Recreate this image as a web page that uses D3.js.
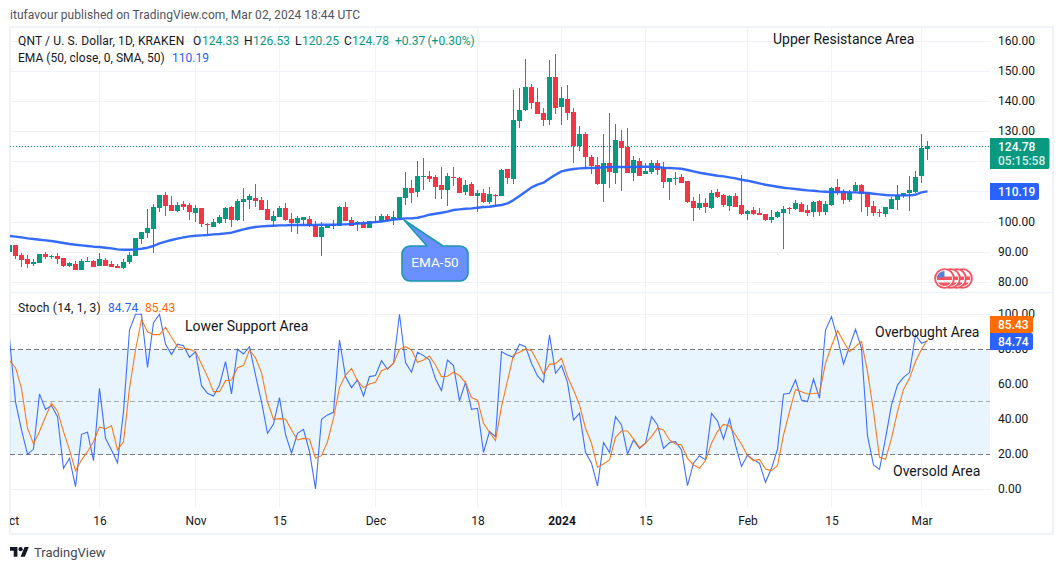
<!DOCTYPE html>
<html><head><meta charset="utf-8">
<script src="https://cdn.jsdelivr.net/npm/d3@7/dist/d3.min.js"></script>
<style>html,body{margin:0;padding:0;background:#fff;overflow:hidden}svg{display:block}text{font-family:Roboto,sans-serif}</style>
</head><body><svg id="c" width="1064" height="570"></svg>
<script>
const startDate = new Date(Date.UTC(2023, 9, 1));
const ohlc = [
[89.9,92.4,89.9,92.4],[92.4,92.4,87.8,88.8],[89.1,89.8,85.2,87.4],[87.7,89.0,84.9,86.1],[86.1,87.6,85.4,86.7],[86.5,89.4,86.5,89.4],[89.4,90.1,87.8,88.4],[88.5,89.1,87.8,88.8],[88.7,89.6,86.1,87.7],[88.1,88.1,85.1,85.4],
[85.4,86.7,85.1,86.4],[86.1,87.0,84.1,84.1],[84.1,87.7,84.1,87.1],[86.7,88.4,86.7,87.1],[87.1,87.4,85.1,85.1],[85.4,89.7,85.4,87.7],[87.4,88.1,85.4,85.4],[86.1,87.1,85.1,85.1],[85.4,86.1,84.7,84.7],[84.7,87.7,84.4,86.7],
[86.7,90.1,86.1,89.1],[88.7,94.7,88.7,94.7],[94.4,96.7,92.7,96.7],[96.4,104.3,94.7,98.0],[97.7,106.0,89.7,105.0],[104.7,109.0,103.3,109.0],[109.0,110.0,102.0,105.3],[105.7,108.7,103.7,103.7],[103.7,106.7,103.3,105.7],[106.0,107.0,104.0,105.0],
[105.7,106.3,100.7,103.3],[103.0,105.7,100.0,104.7],[104.7,104.7,98.4,99.4],[99.4,99.7,95.7,99.0],[98.4,101.0,98.4,100.0],[99.7,102.3,99.4,101.7],[101.0,105.0,99.7,104.7],[105.0,105.3,98.4,100.7],[100.7,107.7,100.4,107.0],[106.7,111.3,100.4,107.7],
[107.3,109.3,104.3,108.7],[108.0,112.6,105.0,107.0],[107.3,108.3,104.0,104.0],[104.3,107.3,100.7,100.7],[100.4,103.7,98.7,102.0],[101.7,105.3,101.7,104.7],[104.7,106.3,100.4,100.7],[101.0,103.0,96.7,99.7],[99.7,102.0,96.0,101.3],[100.7,101.7,99.0,101.7],
[101.0,102.0,98.4,98.7],[99.0,100.4,95.0,95.0],[95.0,100.0,88.7,98.4],[98.0,99.0,98.0,99.0],[98.7,100.7,97.7,99.4],[98.7,105.3,98.7,105.0],[105.0,106.7,100.4,100.4],[100.7,101.7,98.7,98.7],[99.4,100.3,97.0,100.0],[100.0,100.3,98.0,98.0],
[98.0,100.3,98.0,100.3],[100.0,102.0,100.0,100.3],[100.3,102.7,100.0,102.0],[102.0,102.7,100.0,100.3],[100.7,103.7,99.0,101.7],[101.3,108.3,101.3,108.3],[108.0,116.6,105.7,111.3],[111.3,114.0,106.3,109.6],[110.0,120.3,108.3,115.3],[114.9,121.3,110.6,115.3],
[115.3,116.9,113.3,114.3],[114.9,115.6,107.6,111.6],[112.3,118.3,107.6,110.6],[110.6,116.3,105.3,115.3],[114.9,118.3,112.0,114.6],[114.6,114.9,109.6,109.6],[110.0,114.0,109.0,112.3],[112.6,113.3,108.6,108.6],[108.6,110.6,103.3,109.6],[109.6,111.0,106.3,106.7],
[106.7,111.6,106.0,109.3],[109.0,109.3,105.3,108.6],[108.6,117.6,108.6,117.3],[117.6,117.6,112.6,114.6],[114.3,143.8,112.6,133.9],[133.5,144.5,131.2,137.2],[137.2,154.1,136.9,144.8],[144.8,145.8,137.5,139.5],[139.9,144.5,135.9,135.9],[136.2,137.9,131.9,133.9],
[133.9,153.8,132.2,148.2],[148.2,155.8,135.9,137.9],[138.2,144.8,132.2,141.2],[140.9,145.5,133.9,136.2],[136.5,137.9,119.6,125.2],[125.2,131.9,123.6,129.2],[129.2,129.9,117.6,121.6],[121.6,122.3,115.9,118.6],[118.9,121.6,112.3,112.6],[112.6,129.2,106.7,119.6],
[119.6,136.2,111.3,116.6],[116.3,132.6,112.6,127.2],[126.9,130.6,110.3,124.6],[124.9,131.2,116.3,116.3],[116.3,121.9,113.6,120.6],[120.3,121.3,115.3,115.3],[115.9,119.6,115.9,116.9],[116.6,120.6,115.9,119.6],[119.6,120.6,115.6,117.3],[118.2,119.9,111.3,113.3],
[113.3,114.6,107.3,114.6],[114.3,116.6,112.3,114.6],[115.0,116.0,113.0,113.0],[113.6,113.6,106.3,106.7],[107.0,108.3,100.3,104.7],[104.7,109.3,104.0,106.3],[106.3,108.0,103.0,105.0],[104.7,110.6,104.3,109.6],[110.0,111.0,108.0,108.3],[109.0,109.3,105.0,105.7],
[105.3,109.0,103.7,108.6],[108.6,109.6,105.0,105.0],[105.7,115.6,102.3,102.7],[102.7,104.0,100.7,103.7],[104.0,105.0,102.3,102.7],[103.0,104.7,102.3,102.3],[102.7,102.7,100.3,100.7],[100.7,104.0,99.7,101.7],[101.7,103.7,101.3,103.3],[103.0,105.3,91.0,104.3],
[104.7,105.0,102.7,104.3],[104.3,107.3,104.0,106.3],[106.0,106.7,103.3,103.3],[104.0,105.7,102.0,103.0],[103.3,107.0,101.7,106.7],[107.0,107.3,102.0,103.3],[103.3,107.0,102.3,106.0],[105.7,111.6,105.3,111.3],[111.6,114.3,109.0,109.6],[110.3,111.0,106.0,107.3],
[107.3,110.6,106.7,110.0],[110.3,113.3,109.6,112.3],[112.3,112.6,103.3,109.3],[110.0,110.0,102.0,105.0],[105.3,107.0,102.0,103.0],[103.3,104.3,101.7,103.0],[102.7,105.0,101.7,105.0],[104.3,108.3,104.3,107.7],[107.3,112.3,104.0,109.0],[108.6,109.6,108.0,109.6],
[109.6,115.3,103.7,110.6],[110.0,117.0,109.6,115.0],[115.3,129.2,113.0,124.6],[124.3,127.0,120.6,125.2]
];
const ema = [
95.37,95.15,94.92,94.59,94.37,94.15,93.93,93.71,93.38,93.04,92.71,92.49,92.27,92.05,91.83,91.72,91.49,91.27,90.94,90.83,
90.83,90.94,91.16,91.49,92.05,92.93,93.49,94.04,94.48,94.92,95.26,95.48,95.59,95.70,95.92,96.03,96.25,96.47,97.03,97.58,
98.02,98.36,98.58,98.69,98.80,98.91,98.91,99.02,99.02,99.02,99.02,99.02,99.13,99.13,99.13,99.24,99.24,99.35,99.5,99.6,
99.8,100.0,100.2,100.5,100.8,101.0,101.23,101.23,101.45,101.90,102.45,102.78,103.11,103.45,104.0,104.22,104.44,104.55,104.77,105.0,
105.1,105.44,105.66,106.2,107.3,108.65,110.09,111.53,112.41,113.08,114.5,115.73,116.84,117.28,117.61,117.83,117.94,117.94,118.05,118.16,
118.28,118.28,118.28,118.28,118.28,118.39,118.39,118.39,118.28,118.05,117.94,117.83,117.72,117.28,116.84,116.39,116.06,115.73,115.40,115.18,
114.85,114.51,114.07,113.74,113.30,112.85,112.41,112.08,111.75,111.41,111.19,110.97,110.75,110.53,110.42,110.20,110.09,109.98,109.98,109.98,
109.87,109.87,109.75,109.64,109.42,109.20,108.98,108.87,108.87,108.87,108.87,109.09,109.87,110.19
];
const stochK = [
86,50,34,20,23,54.5,45.7,47.8,41.5,12,17.7,1.5,31.4,32.6,16.4,57.7,29.1,22.5,15.2,44.4,
91,100,100,69.7,95.2,100,83,77,82.9,82,75.4,78.7,59.2,54.9,53.3,59.6,73,54.5,80,77.3,
81.5,65.3,50,32,37.3,52.4,31.4,20.6,32,34.3,21.5,0.2,40,42.5,44,85.3,64.4,58.1,62.5,53.3,
64.4,65,73.5,68.6,72,100,72.4,66.9,78.3,76.4,73.9,63,56.4,73.9,70.7,50.5,61.1,45.7,46.3,21.1,
33,30.1,78.7,76.8,75.4,82.9,81.5,72,64.8,61.1,88.2,66.3,70.7,61.1,39.6,43.4,21.1,14.9,1.9,26.7,
21,41.5,36.8,20.2,28.2,23.4,26.3,41.5,36.8,23.4,26.7,27.2,22.5,2.1,14.9,19.2,16.8,43.4,39,28.6,
40.2,25.3,13,19.6,16.8,14.9,4,12,23,54.3,54.9,62.5,51,50.1,63,52,91,98.7,86.3,71.6,
81.5,91.4,80.6,30.5,13.9,11.4,29.1,48.2,59.6,64,66.7,88.2,83.4,84.74
];
const stochD = [
73.5,69.5,57.7,34.9,25.9,33,41.5,49.1,44.8,33,22.5,10.5,16.8,21.5,27.2,35.6,34.5,36.4,22.5,27.2,
57.7,79.6,97.1,90,88.4,88.4,92.6,86.9,81.5,80.6,80,78.7,71.6,64.4,55.8,55.8,62.1,62.5,69.5,70.7,
79.6,75.2,66.7,50,40,40.4,40.2,33.9,28.2,29.1,28.6,17.7,19.2,27.2,40.6,58.1,65.3,69.1,61.9,58.1,
60.2,61.1,67.8,69.1,72,80,81.5,79.6,72.6,73.9,76.2,71,64.4,64.6,66.9,65,61,52.4,50.9,37.7,
32.6,27.8,47.2,61.9,76.8,78.3,80.2,79.2,73,65.7,71.4,71.8,74.9,64.4,56.8,48.2,34.9,26.3,12.6,14.5,
16.8,29.7,33.3,33.3,28.8,23.8,26.3,30.1,34.9,33.9,28.2,25.9,25.3,17.7,13.9,12,16.4,26.3,33,37.1,
36.2,31,25.7,19.2,16.4,17.1,11.6,10.7,13.5,31,44.4,57.1,55.8,54.5,54.7,55,72,81.9,90.7,84.4,
78.7,81.5,84.4,67.2,44.4,18.3,17.1,29.1,44.4,57.1,63.4,73,80,85.43
];
const priceTicks = [160,150,140,130,120,110,100,90,80];
const priceTicksShown = [160,150,140,130,100,90,80];
const stochTicks = [100,80,60,40,20,0];
const stochLevels = [80,50,20];
const timeTicks = [["Oct",2023,9,1],["16",2023,9,16],["Nov",2023,10,1],["15",2023,10,15],["Dec",2023,11,1],["18",2023,11,18],["2024",2024,0,1],["15",2024,0,15],["Feb",2024,1,1],["15",2024,1,15],["Mar",2024,2,1]];
const lastClose = 124.78, lastEma = 110.19, lastK = 84.74, lastD = 85.43, plottedLast = 125.2;
const GREEN="#089981", RED="#f23645", BLUE="#2962ff", ORANGE="#ff6d00", GRID="#f0f3fa", INK="#131722";

const FONT = "Roboto,sans-serif";
const dates = ohlc.map((_,i)=>d3.utcDay.offset(startDate,i));
const x = d3.scaleUtc().domain([dates[0],dates[dates.length-1]]).range([9.5,927.5]);
const yP = d3.scaleLinear().domain([80,160]).range([282.3,41.4]);
const yS = d3.scaleLinear().domain([0,100]).range([489.3,314.3]);
const tickDates = timeTicks.map(t=>new Date(Date.UTC(t[1],t[2],t[3])));
const svg = d3.select("#c");
const defs = svg.append("defs");
defs.append("clipPath").attr("id","pp").append("rect").attr("x",10).attr("y",27).attr("width",980).attr("height",265);
defs.append("clipPath").attr("id","ps").append("rect").attr("x",10).attr("y",293).attr("width",980).attr("height",214);
defs.append("clipPath").attr("id","tx").append("rect").attr("x",10).attr("y",507).attr("width",1040).attr("height",26);

// frame
svg.append("rect").attr("x",10).attr("y",27).attr("width",1043).attr("height",507).attr("fill","#fff").attr("stroke",GRID).attr("stroke-width",2);
svg.append("line").attr("x1",10).attr("x2",1053).attr("y1",292.5).attr("y2",292.5).attr("stroke",GRID).attr("stroke-width",1.5);

const cr = v=>Math.round(v)+0.5;
const pp = svg.append("g").attr("clip-path","url(#pp)");
const ps = svg.append("g").attr("clip-path","url(#ps)");
pp.selectAll(".h").data(priceTicks).join("line").attr("x1",10).attr("x2",990).attr("y1",d=>cr(yP(d)-.5)).attr("y2",d=>cr(yP(d)-.5)).attr("stroke",GRID);
pp.selectAll(".v").data(tickDates).join("line").attr("x1",d=>x(d)).attr("x2",d=>x(d)).attr("y1",27).attr("y2",292).attr("stroke",GRID);
ps.append("rect").attr("x",10).attr("width",980).attr("y",yS(80)).attr("height",yS(20)-yS(80)).attr("fill","rgba(33,150,243,0.1)");
ps.selectAll(".h").data(stochTicks).join("line").attr("x1",10).attr("x2",990).attr("y1",d=>cr(yS(d)-.5)).attr("y2",d=>cr(yS(d)-.5)).attr("stroke",GRID);
ps.selectAll(".v").data(tickDates).join("line").attr("x1",d=>x(d)).attr("x2",d=>x(d)).attr("y1",293).attr("y2",507).attr("stroke",GRID);
ps.selectAll(".lv").data(stochLevels).join("line").attr("x1",10).attr("x2",990).attr("y1",d=>cr(yS(d)-.5)).attr("y2",d=>cr(yS(d)-.5))
  .attr("stroke",d=>d===50?"rgba(120,123,134,0.6)":"#787b86").attr("stroke-dasharray","5,3");

pp.append("line").attr("x1",10).attr("x2",990).attr("y1",cr(yP(plottedLast)-.5)).attr("y2",cr(yP(plottedLast)-.5)).attr("stroke",GREEN).attr("stroke-dasharray","1,2");

const candle = pp.selectAll(".c").data(ohlc).join("g");
candle.append("line").attr("x1",(d,i)=>x(dates[i])).attr("x2",(d,i)=>x(dates[i])).attr("y1",d=>Math.round(yP(d[1]))).attr("y2",d=>Math.round(yP(d[2])))
  .attr("stroke",d=>d[3]>=d[0]?GREEN:RED);
candle.append("rect").attr("x",(d,i)=>x(dates[i])-2.5).attr("width",5)
  .attr("y",d=>Math.round(yP(Math.max(d[0],d[3])))).attr("height",d=>Math.max(1,Math.round(yP(Math.min(d[0],d[3])))-Math.round(yP(Math.max(d[0],d[3])))))
  .attr("fill",d=>d[3]>=d[0]?GREEN:RED);
const line = d3.line().x((d,i)=>x(dates[i]));
pp.append("path").attr("d",line.y(d=>yP(d))(ema)).attr("fill","none").attr("stroke",BLUE).attr("stroke-width",2.4).attr("stroke-linejoin","round").attr("opacity",.95);
ps.append("path").attr("d",line.y(d=>yS(d))(stochK)).attr("fill","none").attr("stroke",BLUE).attr("stroke-width",1.1).attr("opacity",.9);
ps.append("path").attr("d",line.y(d=>yS(d))(stochD)).attr("fill","none").attr("stroke",ORANGE).attr("stroke-width",1.1).attr("opacity",.9);

function axisStyle(g){g.select(".domain").remove();g.selectAll("text").attr("font-family",FONT).attr("font-size",12).attr("fill",INK);}
svg.append("g").attr("transform","translate(990,-0.7)").call(d3.axisRight(yP).tickValues(priceTicksShown).tickSize(0).tickPadding(8).tickFormat(d=>d.toFixed(2))).call(axisStyle);
svg.append("g").attr("transform","translate(990,-0.6)").call(d3.axisRight(yS).tickValues(stochTicks).tickSize(0).tickPadding(8).tickFormat(d=>d.toFixed(2))).call(axisStyle);
const tx = svg.append("g").attr("clip-path","url(#tx)").append("g").attr("transform","translate(0,508)")
  .call(d3.axisBottom(x).tickValues(tickDates).tickSize(0).tickPadding(8).tickFormat((d,i)=>timeTicks[i][0])).call(axisStyle);
tx.selectAll("text").filter((d,i)=>timeTicks[i][0]==="2024").attr("font-weight",700);

function T(t,xx,yy,o={}){const s=svg.append("text").text(t).attr("x",xx).attr("y",yy).attr("dy","0.35em").attr("font-family",FONT).attr("font-size",o.size||12).attr("fill",o.fill||INK).attr("font-weight",o.w||400).attr("text-anchor",o.a||"start");if(o.ls)s.style("letter-spacing",o.ls+"px");return s;}
T("itufavour published on TradingView.com, Mar 02, 2024 18:44 UTC",10,14.5,{fill:"#50535e",size:12,ls:.05});
T("QNT / U. S. Dollar, 1D, KRAKEN",18,41,{ls:.13});
[["O",193,INK],["124.33",202,GREEN],["H",244,INK],["126.53",253,GREEN],["L",295,INK],["120.25",302,GREEN],["C",344,INK],["124.78",352,GREEN],["+0.37",395,GREEN],["(+0.30%)",427.5,GREEN]]
 .forEach(d=>T(d[0],d[1],41,{fill:d[2]}));
T("EMA (50, close, 0, SMA, 50)",18,58,{ls:.04});
T(lastEma.toFixed(2),172,58,{fill:BLUE});
T("Stoch (14, 1, 3)",18,307.5,{ls:.2});
T(lastK.toFixed(2),108,307.5,{fill:BLUE});
T(lastD.toFixed(2),145,307.5,{fill:ORANGE});
T("Upper Resistance Area",773,39.5,{size:14});
T("Lower Support Area",185,326,{size:14});
T("Overbought Area",875,332,{size:14});
T("Oversold Area",893,471,{size:14});

function tag(xx,yy,w,h,fill){svg.append("path").attr("fill",fill).attr("d",`M${xx} ${yy}H${xx+w-2}a2 2 0 0 1 2 2V${yy+h-2}a2 2 0 0 1-2 2H${xx}Z`);}
tag(990,138,59.5,31,GREEN);
T(lastClose.toFixed(2),998,146.5,{fill:"#fff",w:500});
T("05:15:58",998,160.5,{fill:"#d5efe9",w:500});
tag(990,183,49,17,BLUE);
T(lastEma.toFixed(2),998,191.5,{fill:"#fff",w:500});
tag(990,316,43,17,ORANGE);
T(lastD.toFixed(2),998,324.5,{fill:"#fff",w:500});
tag(990,333,43,17,BLUE);
T(lastK.toFixed(2),998,341.5,{fill:"#fff",w:500});

const note = svg.append("g");
note.append("path").attr("d","M404 220L427 246H410a8 8 0 0 0-8 8V273a8 8 0 0 0 8 8H460a8 8 0 0 0 8-8V254a8 8 0 0 0-8-8H443Z")
  .attr("fill","#6a8fff").attr("stroke","#1c98ad").attr("stroke-width",1.6).attr("stroke-linejoin","round");
T("EMA-50",435,262,{fill:"#fff",a:"middle",size:13.5});

const flags = svg.append("g");
[962.5,956.5,950.5,944.5].forEach((cx,k)=>{
  const g = flags.append("g").attr("transform",`translate(${cx},278.5)`);
  const id="f"+k; defs.append("clipPath").attr("id",id).append("circle").attr("r",7.6);
  g.append("circle").attr("r",9.4).attr("fill","#fff").attr("stroke","#f7525f").attr("stroke-width",1.9);
  const f=g.append("g").attr("clip-path",`url(#${id})`);
  f.append("rect").attr("x",-9).attr("y",-2).attr("width",18).attr("height",3.5).attr("fill","#f7525f");
  f.append("rect").attr("x",-9).attr("y",4).attr("width",18).attr("height",3.5).attr("fill","#f7525f");
  if(k===3) f.append("rect").attr("x",-9).attr("y",-9).attr("width",9).attr("height",8).attr("fill","#5b7fd6");
});

const logo = svg.append("g").attr("transform","translate(10,545) scale(.53)").attr("fill","#131722");
logo.append("path").attr("d","M14 22H7V11H0V4h14v18zM28 22h-8l7.5-18h8L28 22z");
logo.append("circle").attr("cx",20).attr("cy",8).attr("r",4);
T("TradingView",34,552,{fill:"#434651",size:13});
</script></body></html>
